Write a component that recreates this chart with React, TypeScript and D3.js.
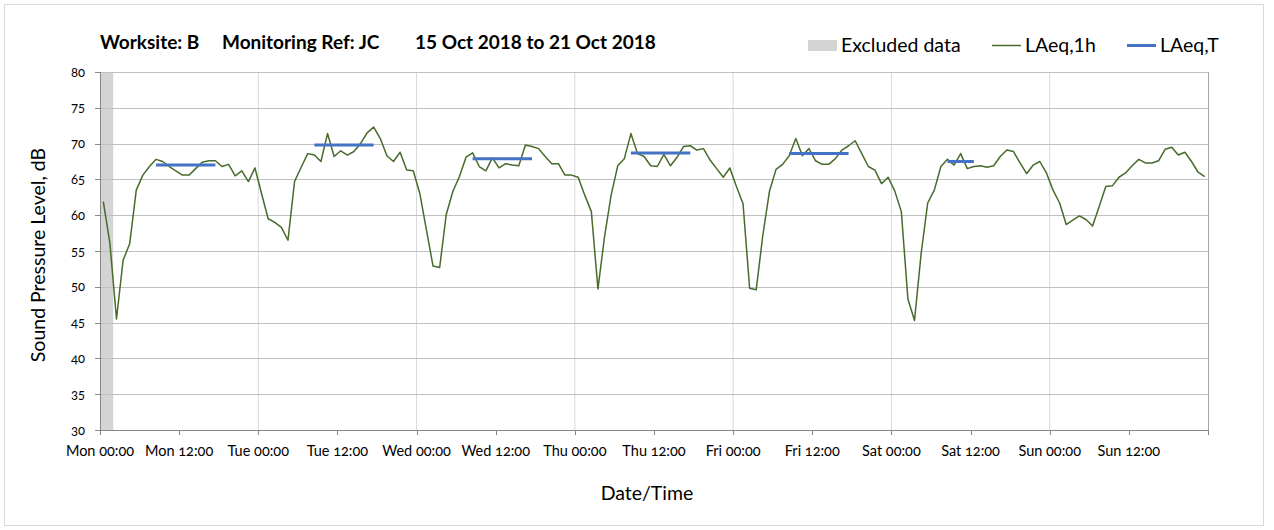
import React from "react";
import * as d3 from "d3";

// ---- Data ----
const dayLabels = ["Mon", "Tue", "Wed", "Thu", "Fri", "Sat", "Sun"];
const yTicks = [30, 35, 40, 45, 50, 55, 60, 65, 70, 75, 80];

// Hourly LAeq,1h values, hour 0 = Mon 00:00
const laeq1hMon = [61.9, 56.1, 45.5, 53.7, 56.0, 63.5, 65.6, 66.8, 67.8, 67.5, 66.8, 66.2, 65.6, 65.6, 66.5, 67.4, 67.6, 67.6, 66.8, 67.1, 65.5, 66.2, 64.7, 66.6];
const laeq1hTue = [63.0, 59.5, 59.0, 58.3, 56.5, 64.7, 66.7, 68.6, 68.4, 67.5, 71.4, 68.2, 69.0, 68.4, 68.9, 70.0, 71.5, 72.3, 70.7, 68.3, 67.5, 68.8, 66.3, 66.2];
const laeq1hWed = [63.0, 57.9, 52.9, 52.7, 60.1, 63.3, 65.4, 68.1, 68.7, 66.8, 66.2, 68.0, 66.6, 67.2, 67.0, 66.9, 69.8, 69.6, 69.3, 68.2, 67.2, 67.2, 65.6, 65.6];
const laeq1hThu = [65.3, 62.8, 60.5, 49.7, 57.0, 62.8, 66.9, 67.9, 71.4, 68.6, 68.2, 66.9, 66.8, 68.5, 66.9, 68.1, 69.6, 69.7, 69.1, 69.3, 67.7, 66.5, 65.3, 66.6];
const laeq1hFri = [64.0, 61.6, 49.8, 49.6, 57.2, 63.3, 66.4, 67.1, 68.3, 70.7, 68.3, 69.3, 67.6, 67.1, 67.1, 67.9, 69.1, 69.7, 70.4, 68.6, 66.8, 66.3, 64.4, 65.3];
const laeq1hSat = [63.4, 60.5, 48.3, 45.3, 54.6, 61.7, 63.5, 66.8, 67.8, 67.0, 68.6, 66.5, 66.8, 66.9, 66.7, 66.9, 68.2, 69.1, 68.9, 67.3, 65.8, 67.0, 67.5, 65.9];
const laeq1hSun = [63.5, 61.7, 58.7, 59.3, 59.9, 59.4, 58.5, 61.2, 64.0, 64.1, 65.3, 65.9, 66.9, 67.8, 67.3, 67.3, 67.6, 69.2, 69.5, 68.4, 68.8, 67.5, 66.0, 65.4];

// LAeq,T working-period values (start hour index, end hour index, level)
const periodStart = [8, 32, 56, 80, 104, 128];
const periodEnd = [17, 41, 65, 89, 113, 132];
const periodLevel = [67.0, 69.8, 67.9, 68.7, 68.6, 67.5];

// Excluded data (hours)
const excludedStart = [0];
const excludedEnd = [2];

const W = 1274;
const H = 530;
const FONT = "Lato, Carlito, Calibri, 'Open Sans', sans-serif";

export default function App() {
  const hourly = [
    ...laeq1hMon, ...laeq1hTue, ...laeq1hWed, ...laeq1hThu,
    ...laeq1hFri, ...laeq1hSat, ...laeq1hSun,
  ];
  const x = d3.scaleLinear().domain([0, 168]).range([100, 1208]);
  const y = d3.scaleLinear().domain([30, 80]).range([430, 72]);

  const line = d3
    .line<number>()
    .x((_, i) => x(i + 0.5))
    .y((d) => y(d));

  const xTicks = d3.range(0, 169, 12);
  const dayGrid = d3.range(24, 168, 24);

  return (
    <svg
      width={W}
      height={H}
      style={{ position: "absolute", left: 0, top: 0, fontFamily: FONT }}
    >
      <rect x={0} y={0} width={W} height={H} fill="#fff" />
      <rect x={4.5} y={4.5} width={1259} height={521} fill="none" stroke="#d9d9d9" />

      {/* Title */}
      <g fontWeight="bold" fontSize={19} fill="#000">
        <text x={100} y={49}>Worksite: B</text>
        <text x={222} y={49}>Monitoring Ref: JC</text>
        <text x={415} y={49}>15 Oct 2018 to 21 Oct 2018</text>
      </g>

      {/* Legend */}
      <g fontSize={19.5} fill="#000">
        <rect x={808} y={40} width={29} height={11} fill="#d4d4d4" />
        <text x={841} y={52}>Excluded data</text>
        <line x1={992} x2={1021} y1={45.5} y2={45.5} stroke="#476b2b" strokeWidth={1.5} />
        <text x={1025} y={52}>LAeq,1h</text>
        <line x1={1127} x2={1156} y1={45.5} y2={45.5} stroke="#4472c4" strokeWidth={3} />
        <text x={1160} y={52}>LAeq,T</text>
      </g>

      {/* Excluded band */}
      {excludedStart.map((s, i) => (
        <rect
          key={"ex" + i}
          x={x(s)}
          y={y(80)}
          width={x(excludedEnd[i]) - x(s)}
          height={y(30) - y(80)}
          fill="#d4d4d4"
        />
      ))}

      {/* Vertical day gridlines */}
      {dayGrid.map((h) => (
        <line key={"vg" + h} x1={x(h)} x2={x(h)} y1={y(80)} y2={y(30)} stroke="#d9d9d9" strokeWidth={1} />
      ))}

      {/* Horizontal gridlines */}
      {yTicks.map((t) => (
        <line key={"hg" + t} x1={x(0)} x2={x(168)} y1={Math.round(y(t)) + 0.5} y2={Math.round(y(t)) + 0.5} stroke="#bfbfbf" strokeWidth={1} />
      ))}
      {/* Right border */}
      <line x1={x(168) + 0.5} x2={x(168) + 0.5} y1={y(80)} y2={y(30)} stroke="#a6a6a6" />

      {/* Axes */}
      <line x1={x(0) + 0.5} x2={x(0) + 0.5} y1={y(80)} y2={y(30)} stroke="#868686" />
      <line x1={x(0)} x2={x(168)} y1={Math.round(y(30)) + 0.5} y2={Math.round(y(30)) + 0.5} stroke="#868686" />

      {/* Y ticks */}
      {yTicks.map((t) => (
        <g key={"yt" + t}>
          <line x1={x(0) - 5} x2={x(0)} y1={Math.round(y(t)) + 0.5} y2={Math.round(y(t)) + 0.5} stroke="#868686" />
          <text x={85} y={y(t)} dy="0.35em" textAnchor="end" fontSize={13} fill="#000" style={{ fontVariantNumeric: "oldstyle-nums" }}>
            {t}
          </text>
        </g>
      ))}

      {/* X ticks */}
      {xTicks.map((h) => (
        <g key={"xt" + h}>
          <line x1={Math.round(x(h)) + 0.5} x2={Math.round(x(h)) + 0.5} y1={y(30)} y2={y(30) + 5} stroke="#868686" />
          {h < 168 && (
            <text x={x(h)} y={456} textAnchor="middle" fontSize={14.5} fill="#000" style={{ fontVariantNumeric: "oldstyle-nums" }}>
              {dayLabels[Math.floor(h / 24)] + " " + (h % 24 === 0 ? "00:00" : "12:00")}
            </text>
          )}
        </g>
      ))}

      {/* LAeq,1h line */}
      <path d={line(hourly) || ""} fill="none" stroke="#476b2b" strokeWidth={1.5} strokeLinejoin="round" />

      {/* LAeq,T segments */}
      {periodStart.map((s, i) => (
        <line
          key={"p" + i}
          x1={x(s + 0.5)}
          x2={x(periodEnd[i] + 0.5)}
          y1={y(periodLevel[i])}
          y2={y(periodLevel[i])}
          stroke="#4472c4"
          strokeWidth={3}
        />
      ))}

      {/* Axis titles */}
      <text x={38} y={255} transform="rotate(-90 38 255)" textAnchor="middle" dy="0.35em" fontSize={19.5} fill="#000">
        Sound Pressure Level, dB
      </text>
      <text x={647} y={500} textAnchor="middle" fontSize={19.5} fill="#000">
        Date/Time
      </text>
    </svg>
  );
}
